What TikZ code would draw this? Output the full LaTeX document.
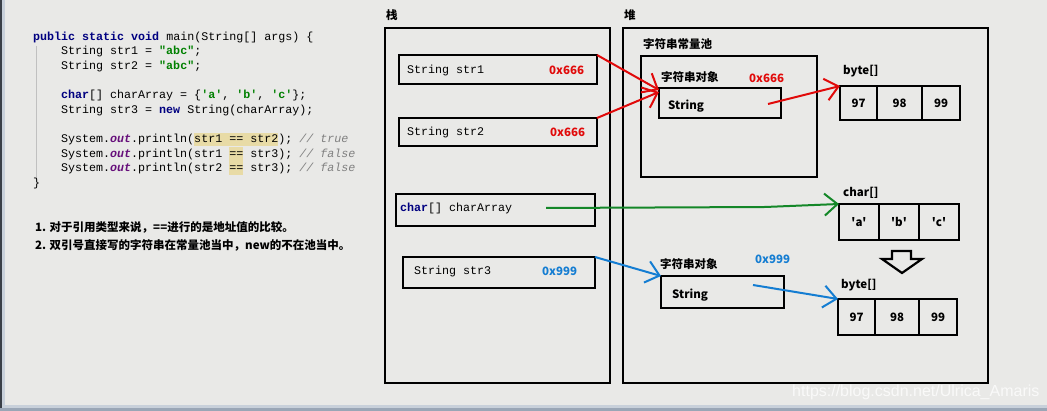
\documentclass[tikz,border=0pt]{standalone}
\usepackage{fontspec}
\usepackage{tikz}
\usetikzlibrary{%
    arrows.meta,%
    positioning%
}
\setmonofont{Liberation Mono}
\newfontfamily\cjk{Noto Sans CJK SC}
\newfontfamily\wmfamily{Liberation Sans}
\newcommand\codefont{\ttfamily\fontsize{11.67}{14}\selectfont}
\newcommand\lblfont{\cjk\bfseries\fontsize{11.5}{14}\selectfont}
\definecolor{bg}{RGB}{233,233,231}
\definecolor{kw}{RGB}{0,0,128}
\definecolor{strg}{RGB}{0,128,0}
\definecolor{outc}{RGB}{102,14,122}
\definecolor{cmt}{RGB}{128,128,128}
\definecolor{hl}{RGB}{232,219,166}
\definecolor{refred}{RGB}{225,10,10}
\definecolor{refblue}{RGB}{20,125,210}
\definecolor{refgreen}{RGB}{20,135,40}
\definecolor{edge}{RGB}{58,63,71}
\definecolor{edgel}{RGB}{200,208,218}
\definecolor{bar}{RGB}{154,166,182}

\begin{document}
\begin{tikzpicture}[
  x=1pt, y=-1pt,
  code/.style={anchor=base west, inner sep=0pt, font=\codefont},
  lbl/.style={anchor=west, inner sep=0pt, font=\lblfont},
  box/.style={draw, line width=2.2pt, anchor=north west,
    inner sep=0pt, outer sep=0pt},
  cell/.style={draw, line width=2.2pt, minimum height=34pt,
    inner sep=0pt, outer sep=0pt, font=\lblfont},
  ref/.style={line width=2pt, -{Straight Barb[length=13pt,width=22pt]}},
  ]
  % Background and window edges
  \useasboundingbox (0,0) rectangle (1047,411);
  \fill[bg] (0,0) rectangle (1047,411);
  \fill[edge] (0,0) rectangle (2,411);
  \fill[edgel] (2,0) rectangle (5,408);
  \fill[edgel] (5,405) rectangle (1047,408);
  \fill[bar] (0,408) rectangle (1047,411);

  % Source code
  \fill[hl] (194,133) rectangle (278,146);
  \fill[hl] (229,147) rectangle (243,175);
  \draw[cmt!50, line width=1pt] (36,46) -- (36,180);
  \node[code] (l1) at (33,40.5) {\textcolor{kw}{\textbf{public static void}} main(String[] args) \{};
  \node[code] (l2) at (61,55) {String str1 = \textcolor{strg}{\textbf{"abc"}};};
  \node[code] (l3) at (61,69.6) {String str2 = \textcolor{strg}{\textbf{"abc"}};};
  \node[code] (l4) at (61,98.8) {\textcolor{kw}{\textbf{char}}[] charArray = \{\textcolor{strg}{\textbf{'a'}}, \textcolor{strg}{\textbf{'b'}}, \textcolor{strg}{\textbf{'c'}}\};};
  \node[code] (l5) at (61,113.4) {String str3 = \textcolor{kw}{\textbf{new}} String(charArray);};
  \node[code] (l6) at (61,142.6) {System.\textcolor{outc}{\textbf{\textit{out}}}.println(str1 == str2); \textcolor{cmt}{\textit{// true}}};
  \node[code] (l7) at (61,157.2) {System.\textcolor{outc}{\textbf{\textit{out}}}.println(str1 == str3); \textcolor{cmt}{\textit{// false}}};
  \node[code] (l8) at (61,171.8) {System.\textcolor{outc}{\textbf{\textit{out}}}.println(str2 == str3); \textcolor{cmt}{\textit{// false}}};
  \node[code] (l9) at (33,186.4) {\}};

  % Notes
  \node[lbl] (n1) at (35,227) {1. 对于引用类型来说，==进行的是地址值的比较。};
  \node[lbl] (n2) at (35,245) {2. 双引号直接写的字符串在常量池当中，new的不在池当中。};

  % Stack
  \node[lbl] (stk) at (386,15) {栈};
  \draw[line width=2.2pt] (385,28) rectangle (610,383);
  \node[box, minimum width=198pt, minimum height=29pt] (s1) at (399,55) {};
  \node[code] at (407,74) {String str1};
  \node[lbl, text=refred] at (549,70) {0x666};
  \node[box, minimum width=198pt, minimum height=28pt] (s2) at (399,118) {};
  \node[code] at (407,136) {String str2};
  \node[lbl, text=refred] at (550,132) {0x666};
  \node[box, minimum width=199pt, minimum height=32pt] (ca) at (396,194) {};
  \node[code] at (400,212) {\textcolor{kw}{\textbf{char}}[] charArray};
  \node[box, minimum width=192pt, minimum height=31pt] (s3) at (403,257) {};
  \node[code] at (414,275) {String str3};
  \node[lbl, text=refblue] at (542,271) {0x999};

  % Heap
  \node[lbl] (hp) at (624,15) {堆};
  \draw[line width=2.2pt] (623,28) rectangle (988,383);
  \node[lbl] at (643,44) {字符串常量池};
  \node[box, minimum width=176pt, minimum height=121pt] (pool) at (641,56) {};
  \node[lbl] at (661,77) {字符串对象};
  \node[lbl, text=refred] at (749,78) {0x666};
  \node[box, minimum width=122pt, minimum height=30pt] (obj1) at (659,88) {};
  \node[lbl] at (668,106) {String};

  \node[lbl] at (843,71) {byte[]};
  \node[cell, minimum width=37pt, anchor=north west] (b11) at (840,86) {97};
  \node[cell, minimum width=45pt, right=0pt of b11] (b12) {98};
  \node[cell, minimum width=38pt, right=0pt of b12] (b13) {99};

  \node[lbl] at (843,193) {char[]};
  \node[cell, minimum width=40pt, minimum height=36pt, anchor=north west] (c1) at (839,204) {\textquotesingle a\textquotesingle};
  \node[cell, minimum width=40pt, minimum height=36pt, right=0pt of c1] (c2) {\textquotesingle b\textquotesingle};
  \node[cell, minimum width=40pt, minimum height=36pt, right=0pt of c2] (c3) {\textquotesingle c\textquotesingle};

  % Hollow arrow
  \draw[line width=2.2pt, fill=bg] (892,251) -- (911,251) -- (911,259)
    -- (922,259) -- (902,273) -- (882,259) -- (892,259) -- cycle;

  \node[lbl] at (660,264) {字符串对象};
  \node[lbl, text=refblue] at (755,259) {0x999};
  \node[box, minimum width=123pt, minimum height=32pt] (obj2) at (661,276) {};
  \node[lbl] at (672,295) {String};

  \node[lbl] at (841,285) {byte[]};
  \node[cell, minimum width=37pt, minimum height=36pt, anchor=north west] (b21) at (838,299) {97};
  \node[cell, minimum width=44pt, minimum height=36pt, right=0pt of b21] (b22) {98};
  \node[cell, minimum width=38pt, minimum height=36pt, right=0pt of b22] (b23) {99};

  % References
  \coordinate (o1out) at (768,104);
  \coordinate (caout) at (546,208);
  \coordinate (o2out) at (753,285);
  \draw[ref, refred] (s1.north east) -- ([yshift=-2pt]obj1.north west);
  \draw[ref, refred] (s2.north east) -- ([yshift=-4pt]obj1.north west);
  \draw[ref, refred] (o1out) -- (b11.north west);
  \draw[ref, refgreen] (caout) -- (765,207) -- (c1.north west);
  \draw[ref, refblue] (s3.north east) -- (obj2.north west);
  \draw[ref, refblue] (o2out) -- (b21.north west);

  % Watermark
  \node[anchor=west, inner sep=0pt, text=white, opacity=.75,
    font={\wmfamily\fontsize{16}{17}\selectfont}] (wm) at (792,392)
    {https://blog.csdn.net/Ulrica\_Amaris};
\end{tikzpicture}
\end{document}
